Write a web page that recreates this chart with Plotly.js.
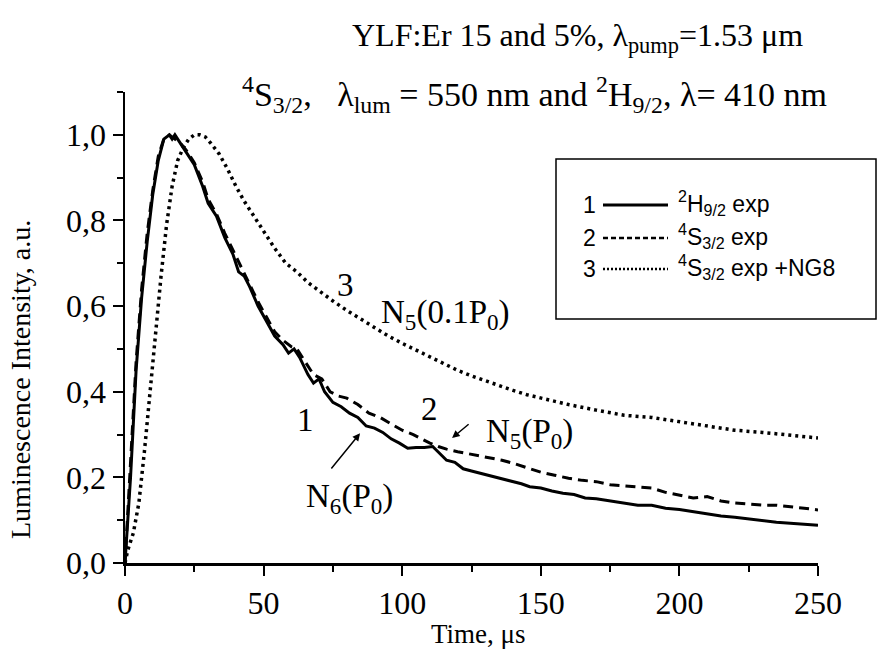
<!DOCTYPE html>
<html>
<head>
<meta charset="utf-8">
<script src="https://cdn.plot.ly/plotly-3.0.1.min.js"></script>
<style>html,body{margin:0;padding:0;background:#fff;}#chart{width:877px;height:654px;}</style>
</head>
<body>
<div id="chart"></div>
<script>
// ---- Data ----
// Curve 1: 2H9/2 exp (solid)
const t1 = [0,2,4,6,8,10,12,14,16,17,18,20,22,25,28,30,33,36,39,41,43,45,48,51,54,57,59,61,63,66,68,70,72,75,78,81,84,87,90,93,96,99,102,105,108,111,113,116,119,122,125,128,131,134,137,140,143,146,150,154,158,162,166,170,175,180,185,190,195,200,205,210,215,220,225,230,235,240,245,250];
const y1 = [0,0.2,0.45,0.62,0.75,0.86,0.94,0.99,1.0,0.99,1.0,0.98,0.96,0.93,0.88,0.84,0.81,0.76,0.72,0.68,0.67,0.645,0.6,0.565,0.53,0.51,0.49,0.5,0.48,0.44,0.42,0.43,0.4,0.375,0.365,0.35,0.34,0.32,0.315,0.305,0.29,0.28,0.268,0.27,0.27,0.272,0.26,0.24,0.235,0.22,0.215,0.21,0.205,0.2,0.195,0.19,0.185,0.178,0.175,0.168,0.163,0.16,0.152,0.15,0.145,0.14,0.135,0.135,0.128,0.125,0.12,0.115,0.11,0.107,0.103,0.1,0.095,0.093,0.09,0.088];
// Curve 2: 4S3/2 exp (dashed)
const t2 = [0,2,4,6,8,10,12,14,16,18,20,22,25,28,30,33,36,39,42,45,48,51,54,57,60,62,65,68,71,74,77,80,84,88,92,96,100,104,107,110,113,116,120,124,128,132,136,140,145,150,155,160,165,170,175,180,185,190,195,200,205,210,215,220,225,230,235,240,245,250];
const y2 = [0,0.22,0.47,0.64,0.77,0.87,0.95,0.99,1.0,0.99,0.98,0.965,0.935,0.89,0.85,0.815,0.77,0.73,0.69,0.65,0.61,0.575,0.54,0.52,0.505,0.5,0.47,0.44,0.43,0.4,0.39,0.385,0.37,0.35,0.34,0.325,0.31,0.3,0.29,0.28,0.272,0.266,0.26,0.255,0.25,0.245,0.24,0.233,0.222,0.212,0.205,0.198,0.193,0.19,0.183,0.18,0.178,0.175,0.165,0.158,0.152,0.155,0.145,0.14,0.138,0.135,0.135,0.132,0.128,0.124];
// Curve 3: 4S3/2 exp +NG8 (dotted)
const t3 = [0,1,3,5,7,9,11,13,15,17,19,21,23,25,27,29,31,34,37,40,43,46,50,54,58,62,66,70,75,80,85,90,95,100,105,110,115,120,125,130,135,140,145,150,160,170,180,190,200,210,220,230,240,250];
const y3 = [0,0.03,0.07,0.14,0.26,0.4,0.53,0.67,0.79,0.88,0.94,0.97,0.99,1.0,1.0,0.995,0.98,0.955,0.92,0.88,0.845,0.815,0.775,0.735,0.70,0.68,0.655,0.635,0.612,0.59,0.57,0.548,0.53,0.513,0.497,0.48,0.465,0.45,0.437,0.425,0.413,0.403,0.393,0.385,0.37,0.357,0.345,0.34,0.33,0.32,0.31,0.305,0.298,0.292];
const seriesNames = ["<sup>2</sup>H<sub>9/2</sub> exp", "<sup>4</sup>S<sub>3/2</sub> exp", "<sup>4</sup>S<sub>3/2</sub> exp +NG8"];
const seriesNumbers = ["1", "2", "3"];
const yTickVals = [0, 0.2, 0.4, 0.6, 0.8, 1.0];
const yTickText = ["0,0", "0,2", "0,4", "0,6", "0,8", "1,0"];
const xTickVals = [0, 50, 100, 150, 200, 250];

// ---- Layout helpers (pixel -> paper) ----
const W = 877, H = 654, L = 125, R = 818, T = 92, B = 563;
const px = x => (x - L) / (R - L);
const py = y => (B - y) / (B - T);
const serif = "Liberation Serif, Times New Roman, serif";
const sans = "Liberation Sans, Arial, sans-serif";

const traces = [
  {x: t1, y: y1, mode: "lines", name: seriesNames[0], line: {color: "#000", width: 3}},
  {x: t2, y: y2, mode: "lines", name: seriesNames[1], line: {color: "#000", width: 3, dash: "10px,6px"}},
  {x: t3, y: y3, mode: "lines", name: seriesNames[2], line: {color: "#000", width: 3.5, dash: "3px,4px"}}
];

const legRows = [205, 238, 269];
const legDash = ["solid", "5px,3px", "2px,2px"];
const shapes = [
  {type: "rect", xref: "paper", yref: "paper", x0: px(556), x1: px(876), y0: py(319), y1: py(159), line: {color: "#000", width: 1.5}, fillcolor: "rgba(0,0,0,0)"}
];
const lbl = {family: serif, size: 33, color: "#000"};
const annotations = [
  {xref: "paper", yref: "paper", x: px(577), y: py(37), text: "YLF:Er 15 and 5%, λ<sub>pump</sub>=1.53 μm", showarrow: false, xanchor: "center", yanchor: "middle", font: {family: serif, size: 32, color: "#000"}},
  {xref: "paper", yref: "paper", x: px(534), y: py(94), text: "<sup>4</sup>S<sub>3/2</sub>,   λ<sub>lum</sub> = 550 nm and <sup>2</sup>H<sub>9/2</sub>, λ= 410 nm", showarrow: false, xanchor: "center", yanchor: "middle", font: {family: serif, size: 34, color: "#000"}},
  {xref: "paper", yref: "paper", x: px(20), y: py(380), text: "Luminescence Intensity, a.u.", textangle: -90, showarrow: false, xanchor: "center", yanchor: "middle", font: {family: serif, size: 28, color: "#000"}},
  {xref: "paper", yref: "paper", x: px(478), y: py(634), text: "Time, μs", showarrow: false, xanchor: "center", yanchor: "middle", font: {family: serif, size: 27, color: "#000"}},
  {x: 79.4, y: 0.65, text: "3", showarrow: false, font: lbl},
  {x: 115.5, y: 0.58, text: "N<sub>5</sub>(0.1P<sub>0</sub>)", showarrow: false, font: lbl},
  {x: 65, y: 0.335, text: "1", showarrow: false, font: lbl},
  {x: 110, y: 0.36, text: "2", showarrow: false, font: lbl},
  {x: 146, y: 0.303, text: "N<sub>5</sub>(P<sub>0</sub>)", showarrow: false, font: lbl},
  {x: 81, y: 0.15, text: "N<sub>6</sub>(P<sub>0</sub>)", showarrow: false, font: lbl},
  {x: 84.8, y: 0.303, ax: 74, ay: 0.217, axref: "x", ayref: "y", text: "", showarrow: true, arrowhead: 2, arrowsize: 1, arrowwidth: 1.5, arrowcolor: "#000"},
  {x: 118, y: 0.292, ax: 124.5, ay: 0.327, axref: "x", ayref: "y", text: "", showarrow: true, arrowhead: 2, arrowsize: 1, arrowwidth: 1.5, arrowcolor: "#000"}
];
for (let i = 0; i < 3; i++) {
  shapes.push({type: "line", xref: "paper", yref: "paper", x0: px(603), x1: px(668), y0: py(legRows[i]), y1: py(legRows[i]), line: {color: "#000", width: i === 0 ? 3 : 2.5, dash: legDash[i]}});
  annotations.push({xref: "paper", yref: "paper", x: px(598), y: py(legRows[i]), text: seriesNumbers[i], showarrow: false, xanchor: "right", yanchor: "middle", font: {family: sans, size: 23, color: "#000"}});
  annotations.push({xref: "paper", yref: "paper", x: px(676), y: py(legRows[i] - 2), text: seriesNames[i], showarrow: false, xanchor: "left", yanchor: "middle", font: {family: sans, size: 23, color: "#000"}});
}

const layout = {
  width: W, height: H,
  margin: {l: L, r: W - R, t: T, b: H - B},
  paper_bgcolor: "#fff", plot_bgcolor: "#fff",
  showlegend: false,
  font: {family: serif, color: "#000"},
  xaxis: {
    range: [0, 250], tickvals: xTickVals, showgrid: false, zeroline: false,
    showline: true, linecolor: "#000", linewidth: 2.5,
    ticks: "outside", ticklen: 10, tickwidth: 2, tickcolor: "#000",
    minor: {ticks: "outside", ticklen: 6, tickwidth: 2, tickcolor: "#000", dtick: 25},
    tickfont: {family: serif, size: 32, color: "#000"}
  },
  yaxis: {
    range: [0, 1.1], tickvals: yTickVals, ticktext: yTickText, showgrid: false, zeroline: false,
    showline: true, linecolor: "#000", linewidth: 2.5,
    ticks: "outside", ticklen: 10, tickwidth: 2, tickcolor: "#000",
    minor: {ticks: "outside", ticklen: 6, tickwidth: 2, tickcolor: "#000", dtick: 0.1},
    tickfont: {family: serif, size: 32, color: "#000"}
  },
  shapes: shapes,
  annotations: annotations
};

Plotly.newPlot("chart", traces, layout, {displayModeBar: false, staticPlot: true});
</script>
</body>
</html>
